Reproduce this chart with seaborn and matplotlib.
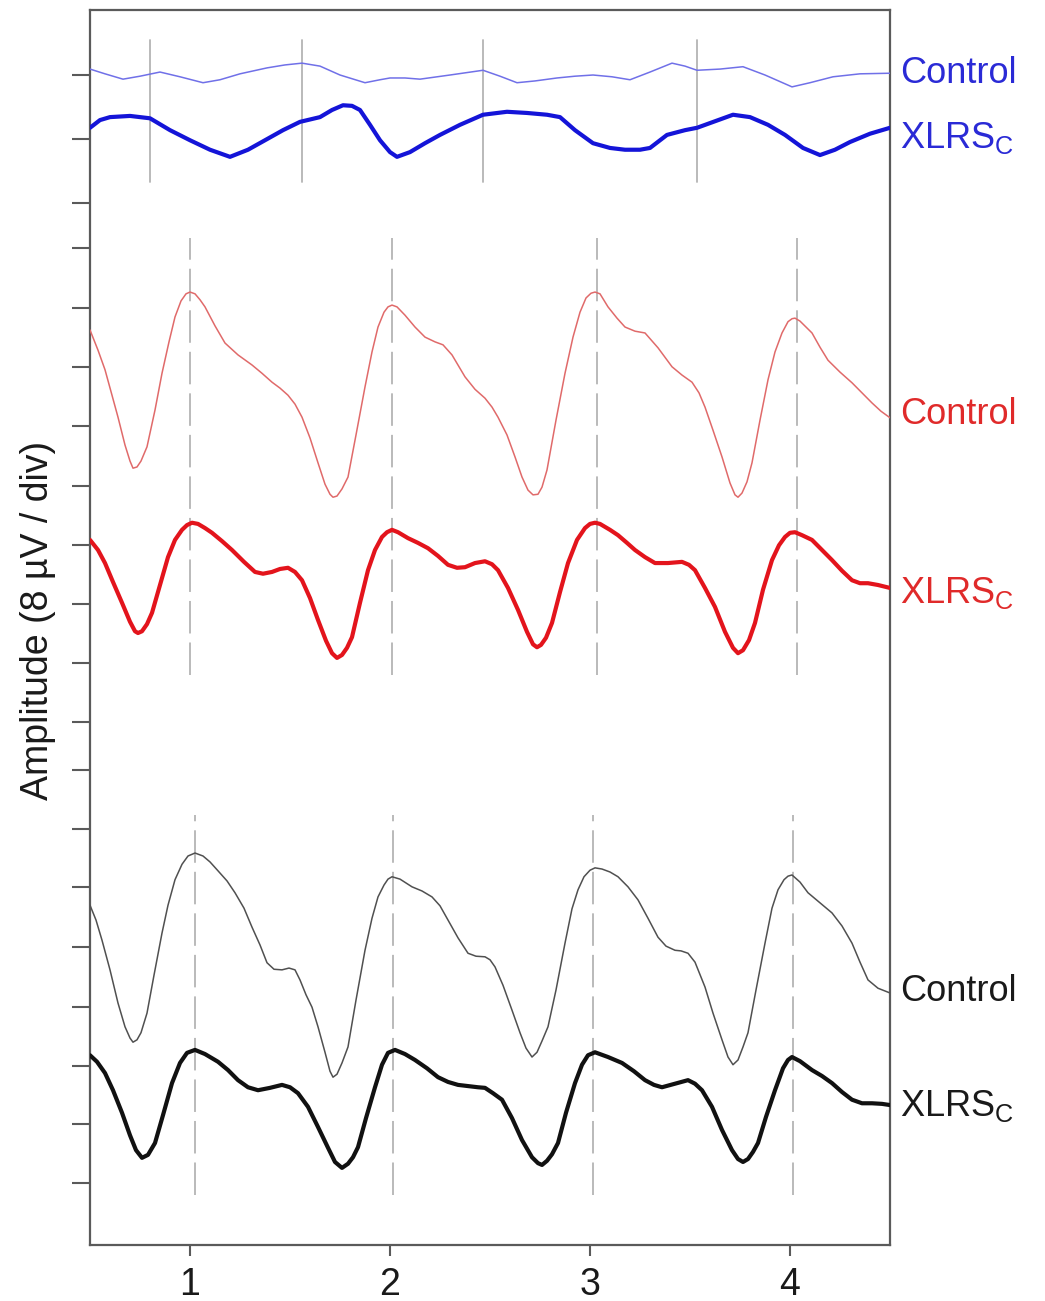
import matplotlib
matplotlib.use("Agg")
import matplotlib.pyplot as plt
import seaborn as sns
import pandas as pd

# ---- traces: (time in cycles, amplitude in divisions of 8 uV) ----
blue_ctrl = [(0.50, 19.83), (0.575, 19.75), (0.665, 19.66), (0.75, 19.71), (0.85, 19.78),
             (0.95, 19.70), (1.065, 19.60), (1.15, 19.65), (1.25, 19.75), (1.385, 19.85),
             (1.475, 19.90), (1.56, 19.93), (1.65, 19.88), (1.75, 19.73), (1.875, 19.60),
             (1.95, 19.65), (2.00, 19.68), (2.075, 19.68), (2.15, 19.66), (2.30, 19.73),
             (2.465, 19.81), (2.55, 19.71), (2.635, 19.60), (2.725, 19.63), (2.835, 19.68),
             (2.925, 19.71), (3.015, 19.73), (3.11, 19.70), (3.20, 19.65), (3.30, 19.78),
             (3.41, 19.93), (3.475, 19.88), (3.535, 19.81), (3.65, 19.83), (3.765, 19.87),
             (3.875, 19.73), (4.01, 19.53), (4.10, 19.60), (4.215, 19.70), (4.35, 19.75),
             (4.50, 19.76)]

blue_xlrs = [(0.50, 18.84), (0.55, 18.97), (0.60, 19.02), (0.70, 19.04), (0.80, 19.00),
             (0.90, 18.80), (1.00, 18.63), (1.10, 18.47), (1.20, 18.35), (1.29, 18.47),
             (1.375, 18.63), (1.465, 18.80), (1.55, 18.94), (1.65, 19.02), (1.71, 19.14),
             (1.765, 19.22), (1.81, 19.21), (1.85, 19.14), (1.90, 18.89), (1.95, 18.63),
             (2.00, 18.43), (2.035, 18.35), (2.10, 18.43), (2.175, 18.58), (2.25, 18.72),
             (2.35, 18.89), (2.465, 19.06), (2.585, 19.11), (2.685, 19.09), (2.785, 19.06),
             (2.85, 19.02), (2.925, 18.80), (3.015, 18.58), (3.10, 18.50), (3.175, 18.47),
             (3.25, 18.47), (3.30, 18.50), (3.385, 18.72), (3.475, 18.80), (3.535, 18.84),
             (3.625, 18.95), (3.715, 19.06), (3.80, 19.02), (3.89, 18.89), (3.975, 18.72),
             (4.065, 18.50), (4.15, 18.38), (4.225, 18.47), (4.30, 18.60), (4.40, 18.74),
             (4.50, 18.84)]

red_ctrl = [(0.50, 15.43), (0.54, 15.09), (0.575, 14.76), (0.61, 14.33), (0.64, 13.96),
            (0.675, 13.49), (0.70, 13.22), (0.715, 13.10), (0.735, 13.12), (0.755, 13.22),
            (0.785, 13.46), (0.825, 14.08), (0.86, 14.70), (0.895, 15.23), (0.925, 15.65),
            (0.955, 15.92), (0.98, 16.04), (1.00, 16.07), (1.025, 16.04), (1.05, 15.94),
            (1.075, 15.82), (1.125, 15.50), (1.175, 15.21), (1.24, 15.01), (1.31, 14.84),
            (1.36, 14.70), (1.41, 14.55), (1.45, 14.45), (1.49, 14.33), (1.525, 14.18),
            (1.56, 13.96), (1.60, 13.61), (1.64, 13.19), (1.675, 12.83), (1.70, 12.66),
            (1.715, 12.61), (1.735, 12.63), (1.76, 12.75), (1.79, 12.95), (1.83, 13.66),
            (1.875, 14.47), (1.91, 15.06), (1.94, 15.48), (1.97, 15.73), (1.99, 15.82),
            (2.01, 15.85), (2.035, 15.82), (2.075, 15.68), (2.125, 15.48), (2.175, 15.31),
            (2.225, 15.23), (2.265, 15.18), (2.31, 15.01), (2.375, 14.64), (2.425, 14.43),
            (2.475, 14.28), (2.51, 14.13), (2.54, 13.96), (2.585, 13.66), (2.625, 13.29),
            (2.66, 12.95), (2.69, 12.73), (2.715, 12.65), (2.74, 12.66), (2.76, 12.78),
            (2.785, 13.07), (2.83, 13.91), (2.875, 14.70), (2.915, 15.31), (2.95, 15.73),
            (2.98, 15.97), (3.005, 16.05), (3.025, 16.07), (3.05, 16.04), (3.09, 15.82),
            (3.135, 15.63), (3.175, 15.48), (3.225, 15.41), (3.275, 15.38), (3.34, 15.13),
            (3.41, 14.81), (3.46, 14.67), (3.51, 14.55), (3.545, 14.37), (3.575, 14.13),
            (3.615, 13.74), (3.66, 13.29), (3.70, 12.85), (3.725, 12.65), (3.74, 12.61),
            (3.76, 12.68), (3.785, 12.87), (3.81, 13.19), (3.85, 13.91), (3.89, 14.59),
            (3.925, 15.06), (3.96, 15.38), (3.99, 15.57), (4.01, 15.62), (4.025, 15.63),
            (4.05, 15.58), (4.08, 15.48), (4.11, 15.38), (4.15, 15.14), (4.19, 14.92),
            (4.25, 14.72), (4.31, 14.54), (4.36, 14.37), (4.41, 14.20), (4.455, 14.06),
            (4.50, 13.95)]

red_xlrs = [(0.50, 11.89), (0.54, 11.72), (0.575, 11.50), (0.615, 11.18), (0.66, 10.83),
            (0.70, 10.51), (0.725, 10.35), (0.74, 10.32), (0.76, 10.35), (0.785, 10.47),
            (0.81, 10.66), (0.85, 11.13), (0.89, 11.60), (0.925, 11.89), (0.96, 12.06),
            (0.985, 12.14), (1.01, 12.18), (1.04, 12.16), (1.075, 12.09), (1.11, 12.01),
            (1.16, 11.87), (1.21, 11.72), (1.27, 11.52), (1.325, 11.35), (1.365, 11.32),
            (1.41, 11.35), (1.45, 11.40), (1.49, 11.42), (1.525, 11.35), (1.56, 11.21),
            (1.60, 10.91), (1.64, 10.54), (1.68, 10.19), (1.71, 9.98), (1.735, 9.90),
            (1.76, 9.95), (1.785, 10.07), (1.81, 10.25), (1.85, 10.83), (1.89, 11.38),
            (1.925, 11.72), (1.96, 11.94), (1.985, 12.02), (2.01, 12.06), (2.04, 12.02),
            (2.09, 11.92), (2.14, 11.84), (2.19, 11.75), (2.24, 11.62), (2.29, 11.47),
            (2.335, 11.42), (2.375, 11.43), (2.425, 11.50), (2.475, 11.53), (2.51, 11.48),
            (2.54, 11.38), (2.59, 11.08), (2.64, 10.71), (2.685, 10.34), (2.715, 10.13),
            (2.735, 10.08), (2.755, 10.12), (2.78, 10.24), (2.81, 10.49), (2.85, 11.01),
            (2.89, 11.50), (2.935, 11.89), (2.975, 12.09), (3.00, 12.16), (3.025, 12.18),
            (3.05, 12.16), (3.10, 12.06), (3.14, 11.97), (3.185, 11.84), (3.225, 11.72),
            (3.275, 11.60), (3.325, 11.50), (3.39, 11.50), (3.46, 11.52), (3.495, 11.47),
            (3.525, 11.38), (3.575, 11.08), (3.625, 10.76), (3.675, 10.34), (3.715, 10.07),
            (3.74, 9.98), (3.765, 10.03), (3.795, 10.20), (3.825, 10.49), (3.865, 11.05),
            (3.91, 11.55), (3.945, 11.80), (3.975, 11.94), (4.00, 12.01), (4.025, 12.02),
            (4.06, 11.97), (4.11, 11.89), (4.16, 11.72), (4.21, 11.55), (4.26, 11.37),
            (4.31, 11.21), (4.35, 11.16), (4.39, 11.16), (4.44, 11.13), (4.50, 11.08)]

black_ctrl = [(0.50, 5.73), (0.53, 5.48), (0.56, 5.14), (0.60, 4.64), (0.64, 4.08),
              (0.675, 3.68), (0.70, 3.49), (0.715, 3.42), (0.735, 3.46), (0.755, 3.58),
              (0.785, 3.91), (0.82, 4.55), (0.86, 5.26), (0.89, 5.73), (0.925, 6.16),
              (0.96, 6.42), (0.99, 6.56), (1.025, 6.61), (1.065, 6.56), (1.10, 6.46),
              (1.14, 6.31), (1.185, 6.14), (1.225, 5.94), (1.27, 5.68), (1.31, 5.36),
              (1.35, 5.06), (1.385, 4.76), (1.42, 4.65), (1.46, 4.64), (1.495, 4.67),
              (1.525, 4.64), (1.55, 4.47), (1.58, 4.22), (1.61, 4.01), (1.64, 3.68),
              (1.675, 3.25), (1.70, 2.93), (1.715, 2.83), (1.735, 2.88), (1.76, 3.07),
              (1.79, 3.34), (1.83, 4.13), (1.875, 4.97), (1.91, 5.51), (1.94, 5.87),
              (1.97, 6.07), (1.99, 6.17), (2.01, 6.21), (2.05, 6.17), (2.11, 6.04),
              (2.16, 5.97), (2.21, 5.87), (2.25, 5.72), (2.29, 5.48), (2.34, 5.18),
              (2.39, 4.92), (2.43, 4.87), (2.475, 4.86), (2.50, 4.81), (2.525, 4.69),
              (2.565, 4.38), (2.61, 3.96), (2.65, 3.58), (2.68, 3.32), (2.71, 3.17),
              (2.735, 3.25), (2.76, 3.44), (2.79, 3.68), (2.83, 4.30), (2.875, 5.09),
              (2.91, 5.67), (2.94, 5.99), (2.97, 6.21), (3.00, 6.32), (3.025, 6.36),
              (3.06, 6.34), (3.10, 6.29), (3.14, 6.21), (3.19, 6.04), (3.24, 5.82),
              (3.29, 5.51), (3.34, 5.19), (3.38, 5.04), (3.425, 4.97), (3.455, 4.96),
              (3.49, 4.92), (3.525, 4.77), (3.575, 4.35), (3.615, 3.91), (3.66, 3.46),
              (3.69, 3.17), (3.715, 3.04), (3.74, 3.12), (3.765, 3.34), (3.79, 3.58),
              (3.83, 4.30), (3.875, 5.09), (3.91, 5.68), (3.94, 5.99), (3.97, 6.16),
              (3.99, 6.22), (4.01, 6.24), (4.05, 6.12), (4.09, 5.94), (4.15, 5.77),
              (4.21, 5.60), (4.26, 5.38), (4.31, 5.09), (4.35, 4.77), (4.39, 4.47),
              (4.44, 4.33), (4.50, 4.25)]

black_xlrs = [(0.50, 3.20), (0.535, 3.09), (0.575, 2.90), (0.615, 2.61), (0.66, 2.23),
              (0.70, 1.85), (0.73, 1.60), (0.76, 1.47), (0.79, 1.52), (0.825, 1.72),
              (0.865, 2.19), (0.91, 2.73), (0.95, 3.07), (0.985, 3.24), (1.025, 3.29),
              (1.075, 3.22), (1.14, 3.09), (1.19, 2.95), (1.24, 2.78), (1.29, 2.66),
              (1.34, 2.61), (1.40, 2.65), (1.46, 2.70), (1.50, 2.66), (1.54, 2.56),
              (1.59, 2.33), (1.64, 1.99), (1.69, 1.64), (1.725, 1.40), (1.76, 1.30),
              (1.79, 1.37), (1.815, 1.48), (1.84, 1.65), (1.88, 2.14), (1.925, 2.66),
              (1.96, 3.04), (1.99, 3.24), (2.025, 3.29), (2.075, 3.22), (2.125, 3.12),
              (2.185, 2.98), (2.24, 2.83), (2.29, 2.75), (2.34, 2.70), (2.39, 2.68),
              (2.44, 2.66), (2.475, 2.65), (2.515, 2.56), (2.56, 2.45), (2.61, 2.14),
              (2.66, 1.77), (2.71, 1.48), (2.74, 1.38), (2.76, 1.35), (2.785, 1.42),
              (2.81, 1.53), (2.84, 1.72), (2.88, 2.23), (2.925, 2.73), (2.96, 3.04),
              (2.99, 3.20), (3.025, 3.25), (3.09, 3.17), (3.16, 3.07), (3.22, 2.93),
              (3.275, 2.78), (3.32, 2.70), (3.36, 2.66), (3.425, 2.72), (3.49, 2.78),
              (3.525, 2.72), (3.56, 2.61), (3.61, 2.33), (3.66, 1.94), (3.71, 1.60),
              (3.74, 1.45), (3.765, 1.40), (3.79, 1.45), (3.815, 1.57), (3.84, 1.72),
              (3.88, 2.16), (3.925, 2.61), (3.965, 2.98), (3.99, 3.12), (4.01, 3.17),
              (4.05, 3.10), (4.11, 2.95), (4.16, 2.85), (4.21, 2.73), (4.26, 2.58),
              (4.31, 2.45), (4.36, 2.39), (4.41, 2.39), (4.46, 2.38), (4.50, 2.36)]

# ---- peak markers per group (time) and their vertical extent ----
blue_marks = [0.80, 1.56, 2.465, 3.535]
red_marks = [1.00, 2.01, 3.035, 4.035]
black_marks = [1.025, 2.015, 3.015, 4.015]
blue_mark_span = (17.93, 20.32)
red_mark_span = (9.61, 16.98)
black_mark_span = (0.84, 7.25)

# ---- axis ticks ----
x_ticks = [1, 2, 3, 4]
y_ticks = [1.05, 2.04, 3.02, 4.01, 5.03, 6.04, 7.02, 8.01,
           8.82, 9.81, 10.81, 11.80, 12.80, 13.81, 14.81, 15.80, 16.81,
           17.57, 18.65, 19.73]

# ---- right-hand labels: (text, baseline y, colour) ----
labels = [
    ("Control", 19.60, "#2a2ad6"),
    ("XLRS$_\\mathrm{C}$", 18.50, "#2a2ad6"),
    ("Control", 13.84, "#e02a2a"),
    ("XLRS$_\\mathrm{C}$", 10.83, "#e02a2a"),
    ("Control", 4.11, "#1a1a1a"),
    ("XLRS$_\\mathrm{C}$", 2.18, "#1a1a1a"),
]

sns.set_theme(style="white")
plt.rcParams["font.family"] = ["Liberation Sans", "DejaVu Sans"]
plt.rcParams["mathtext.fontset"] = "custom"
plt.rcParams["mathtext.rm"] = "Liberation Sans"
plt.rcParams["mathtext.it"] = "Liberation Sans:italic"

W, H = 1045, 1301
fig = plt.figure(figsize=(W / 100, H / 100), dpi=100)
ax = fig.add_axes([90 / W, (H - 1245) / H, 800 / W, 1235 / H])

spine_col = "#5a5a5a"
mark_col = "#b4b4b4"

# peak markers
for t in blue_marks:
    ax.plot([t, t], blue_mark_span, color=mark_col, lw=1.3, zorder=1)
for marks, span in ((red_marks, red_mark_span), (black_marks, black_mark_span)):
    for t in marks:
        ax.plot([t, t], span, color=mark_col, lw=1.3, dashes=(18, 5), zorder=1)

traces = [
    (blue_ctrl, "#7070e8", 1.1),
    (blue_xlrs, "#1414d8", 3.0),
    (red_ctrl, "#e06a6a", 1.1),
    (red_xlrs, "#e3141c", 3.0),
    (black_ctrl, "#505050", 1.1),
    (black_xlrs, "#111111", 3.0),
]
for pts, col, lw in traces:
    df = pd.DataFrame(pts, columns=["time", "amp"])
    sns.lineplot(data=df, x="time", y="amp", ax=ax, color=col, linewidth=lw,
                 estimator=None, sort=True, zorder=3,
                 solid_joinstyle="round", solid_capstyle="round")

for txt, y, col in labels:
    ax.text(4.55, y, txt, color=col, fontsize=26, ha="left", va="baseline",
            clip_on=False)

ax.set_xlim(0.5, 4.5)
ax.set_ylim(0, 1235 / 59.3)
ax.set_xticks(x_ticks)
ax.set_xticklabels([str(v) for v in x_ticks])
ax.set_yticks(y_ticks)
ax.set_yticklabels([])
ax.set_xlabel("")
ax.set_ylabel("Amplitude (8 \u00b5V / div)", fontsize=27, color="#1a1a1a")
ax.yaxis.set_label_coords(-0.065, 0.506)
ax.yaxis.label.set_va("center")

for sp in ax.spines.values():
    sp.set_visible(True)
    sp.set_color(spine_col)
    sp.set_linewidth(1.6)
ax.tick_params(axis="y", which="both", left=True, direction="out", length=13,
               width=1.5, color=spine_col)
ax.tick_params(axis="x", which="both", bottom=True, direction="out", length=8,
               width=1.5, color=spine_col, labelsize=27, pad=8, labelcolor="#1a1a1a")
ax.grid(False)
ax.set_facecolor("white")
fig.patch.set_facecolor("white")

fig.savefig("out.png", dpi=100, facecolor="white")
